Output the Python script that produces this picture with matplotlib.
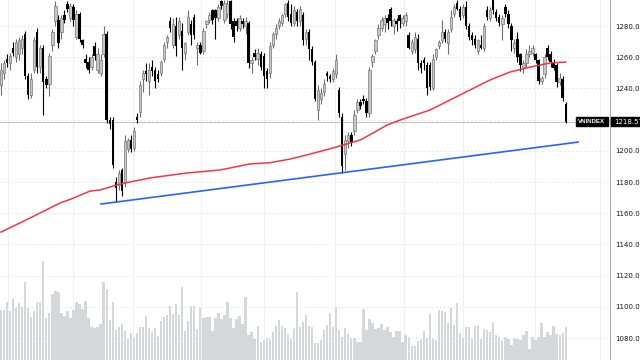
import matplotlib
matplotlib.use("Agg")
import matplotlib.pyplot as plt
import matplotlib.transforms as mtransforms
from matplotlib.patches import Rectangle

# daily candles (oldest first)
opens = [1242, 1250, 1259, 1256, 1266, 1260, 1262, 1266, 1275, 1248,
         1236, 1252, 1276, 1254, 1266, 1246, 1243, 1268, 1283, 1284,
         1276, 1287, 1294, 1285, 1292, 1273, 1288, 1271, 1259, 1257,
         1254, 1267, 1252, 1250, 1262, 1275, 1220, 1220, 1180, 1178,
         1188, 1180, 1201, 1207, 1202, 1222, 1225, 1246, 1251, 1245,
         1254, 1252, 1249, 1250, 1259, 1270, 1283, 1268, 1280, 1274,
         1277, 1263, 1276, 1281, 1286, 1266, 1268, 1264, 1281, 1284,
         1290, 1290, 1285, 1296, 1284, 1288, 1296, 1283, 1283, 1279,
         1283, 1280, 1282, 1256, 1263, 1259, 1262, 1261, 1251, 1250,
         1268, 1275, 1280, 1282, 1288, 1295, 1288, 1282, 1289, 1283,
         1287, 1272, 1276, 1265, 1257, 1226, 1233, 1238, 1250, 1248,
         1246, 1249, 1239, 1222, 1198, 1206, 1210, 1213, 1226, 1231,
         1233, 1232, 1224, 1257, 1264, 1274, 1279, 1281, 1285, 1291,
         1280, 1283, 1287, 1282, 1283, 1274, 1264, 1265, 1272, 1256,
         1258, 1255, 1255, 1240, 1260, 1267, 1271, 1276, 1269, 1278,
         1288, 1295, 1291, 1287, 1292, 1280, 1274, 1272, 1264, 1268,
         1266, 1290, 1285, 1297, 1289, 1286, 1281, 1292, 1288, 1280,
         1266, 1272, 1262, 1254, 1256, 1262, 1263, 1262, 1258, 1245,
         1249, 1266, 1262, 1257, 1255, 1244, 1246, 1230]
highs = [1256, 1258, 1262, 1263, 1270, 1272, 1273, 1274, 1277, 1250,
         1250, 1273, 1279, 1268, 1268, 1248, 1263, 1278, 1296, 1287,
         1287, 1290, 1296, 1295, 1294, 1290, 1289, 1272, 1262, 1260,
         1262, 1270, 1266, 1262, 1280, 1277, 1222, 1222, 1183, 1188,
         1189, 1210, 1208, 1210, 1215, 1224, 1245, 1252, 1256, 1256,
         1258, 1254, 1252, 1258, 1270, 1274, 1286, 1285, 1286, 1286,
         1282, 1270, 1290, 1284, 1288, 1270, 1270, 1279, 1284, 1289,
         1291, 1291, 1294, 1297, 1297, 1297, 1297, 1285, 1285, 1287,
         1285, 1286, 1283, 1260, 1265, 1266, 1264, 1263, 1253, 1270,
         1276, 1281, 1285, 1288, 1295, 1297, 1294, 1293, 1291, 1293,
         1289, 1278, 1278, 1267, 1258, 1242, 1240, 1246, 1251, 1249,
         1253, 1262, 1241, 1224, 1210, 1212, 1212, 1226, 1233, 1233,
         1236, 1234, 1254, 1262, 1272, 1281, 1286, 1287, 1288, 1292,
         1285, 1285, 1288, 1287, 1289, 1276, 1272, 1276, 1275, 1258,
         1260, 1257, 1257, 1262, 1266, 1271, 1284, 1278, 1278, 1290,
         1294, 1297, 1293, 1294, 1296, 1282, 1276, 1274, 1272, 1274,
         1282, 1293, 1292, 1297, 1291, 1288, 1287, 1294, 1290, 1282,
         1272, 1276, 1263, 1258, 1265, 1268, 1268, 1263, 1259, 1248,
         1262, 1268, 1264, 1259, 1256, 1250, 1248, 1231]
lows = [1236, 1246, 1254, 1252, 1261, 1257, 1258, 1262, 1246, 1233,
        1234, 1250, 1250, 1250, 1223, 1240, 1235, 1264, 1280, 1266,
        1272, 1282, 1289, 1283, 1280, 1272, 1270, 1266, 1253, 1250,
        1252, 1258, 1250, 1248, 1260, 1218, 1214, 1189, 1167, 1175,
        1171, 1177, 1199, 1199, 1200, 1218, 1222, 1238, 1245, 1236,
        1248, 1240, 1244, 1248, 1257, 1266, 1276, 1266, 1261, 1272,
        1252, 1258, 1274, 1268, 1272, 1255, 1262, 1262, 1279, 1282,
        1281, 1272, 1283, 1291, 1282, 1285, 1278, 1270, 1277, 1277,
        1279, 1275, 1253, 1250, 1258, 1255, 1252, 1240, 1240, 1247,
        1266, 1272, 1278, 1280, 1286, 1283, 1280, 1280, 1280, 1280,
        1268, 1268, 1258, 1255, 1232, 1220, 1230, 1235, 1245, 1244,
        1244, 1247, 1222, 1186, 1188, 1202, 1203, 1210, 1224, 1227,
        1230, 1222, 1222, 1254, 1262, 1272, 1277, 1276, 1278, 1280,
        1275, 1277, 1279, 1280, 1280, 1265, 1262, 1263, 1252, 1250,
        1252, 1236, 1239, 1239, 1258, 1265, 1269, 1270, 1262, 1276,
        1286, 1290, 1284, 1285, 1278, 1271, 1268, 1266, 1262, 1265,
        1264, 1284, 1283, 1288, 1283, 1280, 1271, 1286, 1279, 1264,
        1263, 1257, 1251, 1250, 1254, 1260, 1261, 1256, 1243, 1243,
        1247, 1258, 1254, 1252, 1241, 1242, 1232, 1218]
closes = [1252, 1256, 1256, 1261, 1263, 1270, 1271, 1272, 1248, 1236,
          1246, 1271, 1254, 1266, 1244, 1242, 1261, 1276, 1293, 1269,
          1285, 1284, 1291, 1293, 1284, 1288, 1272, 1268, 1256, 1252,
          1260, 1261, 1262, 1258, 1275, 1220, 1217, 1191, 1176, 1186,
          1174, 1206, 1207, 1201, 1213, 1220, 1242, 1250, 1249, 1252,
          1251, 1245, 1246, 1257, 1268, 1273, 1279, 1281, 1267, 1283,
          1266, 1269, 1286, 1274, 1274, 1268, 1263, 1277, 1283, 1287,
          1284, 1285, 1292, 1293, 1295, 1294, 1281, 1273, 1280, 1285,
          1281, 1283, 1256, 1258, 1260, 1263, 1254, 1248, 1246, 1267,
          1275, 1279, 1283, 1287, 1294, 1286, 1282, 1290, 1283, 1291,
          1271, 1276, 1265, 1257, 1233, 1239, 1237, 1243, 1248, 1246,
          1251, 1258, 1224, 1190, 1207, 1210, 1205, 1223, 1231, 1229,
          1232, 1224, 1252, 1261, 1271, 1279, 1284, 1285, 1282, 1283,
          1284, 1281, 1283, 1285, 1287, 1266, 1270, 1273, 1256, 1253,
          1256, 1240, 1241, 1259, 1265, 1270, 1276, 1272, 1276, 1286,
          1292, 1291, 1286, 1292, 1280, 1273, 1271, 1268, 1271, 1266,
          1280, 1286, 1290, 1290, 1285, 1282, 1285, 1288, 1281, 1271,
          1269, 1260, 1255, 1256, 1262, 1264, 1266, 1258, 1245, 1247,
          1260, 1260, 1257, 1253, 1244, 1247, 1234, 1218.57]
# volume bar heights (relative units)
volumes = [50, 50, 58, 49, 61, 52, 57, 53, 78, 52,
           43, 49, 58, 58, 99, 42, 47, 66, 69, 68,
           47, 44, 49, 42, 50, 58, 56, 51, 59, 42,
           33, 32, 33, 36, 78, 71, 40, 58, 30, 33,
           36, 29, 21, 27, 23, 27, 33, 33, 44, 32,
           28, 32, 24, 39, 43, 45, 54, 46, 56, 45,
           73, 29, 39, 54, 54, 31, 52, 42, 43, 43,
           29, 42, 47, 41, 45, 58, 42, 32, 41, 44,
           36, 63, 25, 28, 21, 34, 18, 20, 22, 21,
           28, 34, 40, 34, 32, 26, 21, 32, 68, 33,
           38, 45, 34, 33, 17, 17, 20, 30, 35, 47,
           33, 53, 30, 23, 32, 26, 22, 22, 18, 18,
           51, 30, 41, 37, 31, 32, 36, 30, 33, 28,
           23, 29, 29, 18, 25, 23, 14, 14, 19, 20,
           29, 22, 46, 21, 20, 50, 49, 48, 37, 52,
           35, 57, 27, 22, 33, 33, 21, 34, 34, 21,
           31, 30, 28, 38, 25, 23, 19, 23, 21, 15,
           22, 21, 20, 25, 29, 11, 23, 20, 23, 37,
           23, 28, 25, 34, 26, 25, 27, 33]

# 200-day moving average (red)
ma_idx = [0, 9.6, 19.5, 23.2, 29.5, 32.8, 39.4, 49.3, 61.6, 72.5, 82.5, 89.1, 95.7, 102.3,
          109.9, 118.9, 123.2, 127.8, 132.1, 142.1, 148.7, 155.3, 161.9, 168.5, 175.2, 181.8, 187]
ma_val = [1147.9, 1156.9, 1166.5, 1169.1, 1174.2, 1174.9, 1178.7, 1182.6, 1185.8, 1187.7, 1191.6,
          1192.4, 1194.7, 1197.9, 1201.8, 1206.9, 1211.4, 1216.5, 1219.7, 1226.2, 1232.6, 1239.0,
          1245.4, 1250.5, 1253.7, 1256.3, 1256.9]

# support trendline (blue)
trend_idx = [33.1, 191.1]
trend_val = [1165.9, 1205.6]

month_idx = [2.3, 23.8, 43.7, 66.2, 87.1, 110.6, 133.4, 153.0, 176.8, 198.3]
price_ticks = [1080, 1100, 1120, 1140, 1160, 1180, 1200, 1220, 1240, 1260, 1280]
last_price = 1218.57
symbol = "VNINDEX"

fig = plt.figure(figsize=(6.4, 3.6), dpi=100)
ax = fig.add_axes([0, 0, 610 / 640, 1])

for t in price_ticks:
    ax.axhline(t, color="#dfe2e8", lw=0.7, ls=(0, (1.5, 2.5)), zorder=0)
for m in month_idx:
    ax.axvline(m, color="#eef0f4", lw=0.8, zorder=0)

x = list(range(len(closes)))

# volume at the bottom
vol_tr = mtransforms.blended_transform_factory(ax.transData, ax.transAxes)
ax.bar(x, [v / 360 for v in volumes], width=0.78, color="#d6d7db", transform=vol_tr, zorder=1)

ax.axhline(last_price, color="#c4c4c4", lw=0.8, zorder=1)

up = [i for i in x if closes[i] >= opens[i]]
dn = [i for i in x if closes[i] < opens[i]]
ax.vlines(up, [lows[i] for i in up], [highs[i] for i in up], color="#6f6f6f", lw=0.8, zorder=2)
ax.vlines(dn, [lows[i] for i in dn], [highs[i] for i in dn], color="#000000", lw=0.8, zorder=2)
ax.bar(up, [max(closes[i] - opens[i], 0.8) for i in up], bottom=[opens[i] for i in up],
       width=0.8, color="#c6c6c6", edgecolor="#7a7a7a", linewidth=0.5, zorder=3)
ax.bar(dn, [max(opens[i] - closes[i], 0.8) for i in dn], bottom=[closes[i] for i in dn],
       width=0.8, color="#000000", linewidth=0, zorder=3)

ax.plot(ma_idx, ma_val, color="#f23645", lw=1.1, zorder=4)
ax.plot(trend_idx, trend_val, color="#2962ff", lw=1.2, zorder=4)

ax.set_xlim(-0.33, 201.66)
ax.set_ylim(1065.9, 1296.7)
ax.set_xticks([])
ax.yaxis.tick_right()
ax.set_yticks(price_ticks)
# the 1220 label sits under the last-price tag
ax.set_yticklabels(["" if t == 1220 else f"{t:.2f}" for t in price_ticks])
ax.tick_params(axis="y", length=0, pad=4, labelsize=5.0, labelcolor="#131722")
for s in ["top", "left", "bottom"]:
    ax.spines[s].set_visible(False)
ax.spines["right"].set_color("#a8abb3")
ax.spines["right"].set_linewidth(0.8)

# last price tag
lab_tr = mtransforms.blended_transform_factory(ax.transAxes, ax.transData)
ax.add_patch(Rectangle((576 / 610, last_price - 2.9), 32 / 610, 5.8, transform=lab_tr,
                       color="#000000", clip_on=False, zorder=10))
ax.add_patch(Rectangle((610.5 / 610, last_price - 2.9), 40 / 610, 5.8, transform=lab_tr,
                       color="#000000", clip_on=False, zorder=10))
ax.text(592 / 610, last_price, symbol, transform=lab_tr, color="white", fontsize=4.4,
        family="Liberation Sans", fontweight="bold", ha="center", va="center",
        zorder=11, clip_on=False)
ax.text(614.5 / 610, last_price, f"{last_price:.2f}", transform=lab_tr, color="white",
        fontsize=5.0, ha="left", va="center", zorder=11, clip_on=False)

fig.savefig("out.png", dpi=100)
